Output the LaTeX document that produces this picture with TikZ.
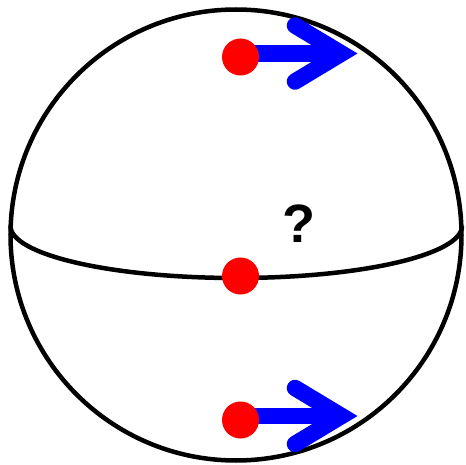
\documentclass[tikz,border=0pt]{standalone}
\usepackage{fontspec}
\setmainfont{Liberation Sans}
\begin{document}
\begin{tikzpicture}[x=1pt,y=-1pt,
  outline/.style={draw=black,line width=4.5pt},
  dot/.style={circle,fill=red,inner sep=0pt,minimum size=37pt},
  shaft/.style={draw=blue,line width=16.5pt},
  head/.style={draw=blue,line width=16.5pt,line cap=round,line join=miter},
  qmark/.style={inner sep=0pt,font=\fontsize{54}{54}\selectfont\bfseries}]
\useasboundingbox (0,0) rectangle (466,465);
% sphere
\draw[outline] (236,235) circle[radius=225.5];
\draw[outline] (10.5,226) arc[start angle=180,end angle=360,x radius=225.75,y radius=-52];
% top arrow
\coordinate (t1) at (341.5,53.5);
\coordinate (t1a) at (295,25.5);
\coordinate (t1b) at (295,81.5);
\coordinate (s1) at (240.5,53.5);
\draw[shaft] (s1) -- (t1);
\draw[head] (t1a) -- (t1) -- (t1b);
\node[dot] (d1) at (240.5,57) {};
% bottom arrow
\coordinate (t3) at (341.5,416);
\coordinate (t3a) at (295,388);
\coordinate (t3b) at (295,444);
\coordinate (s3) at (240.5,416);
\draw[shaft] (s3) -- (t3);
\draw[head] (t3a) -- (t3) -- (t3b);
\node[dot] (d3) at (240.5,420) {};
% equator dot
\node[dot] (d2) at (240.5,276) {};
% question mark
\node[qmark] (q) at (298.5,224) {?};
\end{tikzpicture}
\end{document}
